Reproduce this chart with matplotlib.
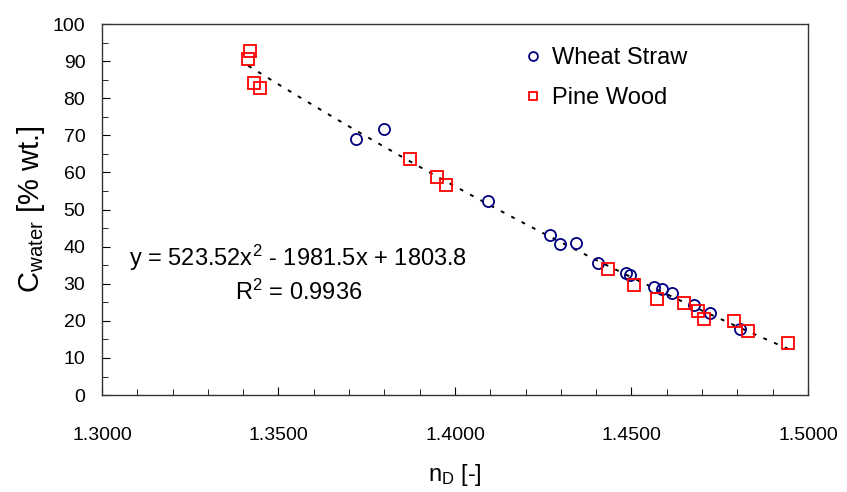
import numpy as np
import matplotlib
matplotlib.use('Agg')
import matplotlib.pyplot as plt
from matplotlib.ticker import MultipleLocator, FormatStrFormatter

plt.rcParams['font.family'] = ['Liberation Sans', 'DejaVu Sans']
plt.rcParams['mathtext.fontset'] = 'custom'
plt.rcParams['mathtext.rm'] = 'Liberation Sans'
plt.rcParams['mathtext.it'] = 'Liberation Sans:italic'

# wheat straw samples
wheat_nd = [1.3720, 1.3799, 1.4093, 1.4269, 1.4297, 1.4343, 1.4405, 1.4484,
            1.4496, 1.4564, 1.4586, 1.4615, 1.4677, 1.4722, 1.4807]
wheat_c = [69.0, 71.7, 52.3, 43.1, 40.7, 41.0, 35.6, 32.9,
           32.3, 29.1, 28.6, 27.5, 24.3, 22.1, 17.8]

# pine wood samples
pine_nd = [1.3420, 1.3414, 1.3430, 1.3447, 1.3873, 1.3949, 1.3975, 1.4433,
           1.4507, 1.4572, 1.4649, 1.4688, 1.4705, 1.4790, 1.4830, 1.4943]
pine_c = [92.8, 90.7, 84.1, 82.9, 63.6, 58.8, 56.6, 34.0,
          29.6, 25.9, 24.8, 22.6, 20.5, 19.9, 17.3, 14.0]

eq_text = 'y = 523.52x$^2$ - 1981.5x + 1803.8'
r2_text = 'R$^2$ = 0.9936'

fig = plt.figure(figsize=(8.47, 4.92), dpi=100)
ax = fig.add_axes([0.1204, 0.197, 0.8335, 0.754])

# polynomial trend line through all points
all_x = np.array(wheat_nd + pine_nd)
all_y = np.array(wheat_c + pine_c)
coef = np.polyfit(all_x, all_y, 2)
xs = np.linspace(all_x.min(), all_x.max(), 200)
ax.plot(xs, np.polyval(coef, xs), color='black', linestyle=(0, (2, 4)), linewidth=1.4)

ax.plot(wheat_nd, wheat_c, 'o', markersize=8, markerfacecolor='none',
        markeredgecolor='#000080', markeredgewidth=1.3, label='Wheat Straw')
ax.plot(pine_nd, pine_c, 's', markersize=8, markerfacecolor='none',
        markeredgecolor='#ff0000', markeredgewidth=1.3, label='Pine Wood')

ax.set_xlim(1.3, 1.5)
ax.set_ylim(0, 100)
ax.xaxis.set_major_locator(MultipleLocator(0.05))
ax.xaxis.set_minor_locator(MultipleLocator(0.01))
ax.yaxis.set_major_locator(MultipleLocator(10))
ax.yaxis.set_minor_locator(MultipleLocator(5))
ax.xaxis.set_major_formatter(FormatStrFormatter('%.4f'))
ax.tick_params(which='both', direction='in', labelsize=14, top=False, right=False)
ax.tick_params(which='major', length=6)
ax.tick_params(which='minor', length=4)
ax.tick_params(axis='x', pad=23)
ax.tick_params(axis='y', pad=12)
for s in ax.spines.values():
    s.set_color('#333333')
    s.set_linewidth(1.0)

ax.set_xlabel('n$_{\\mathrm{D}}$ [-]', fontsize=17, labelpad=13)
ax.set_ylabel('C$_{\\mathrm{water}}$ [% wt.]', fontsize=21, labelpad=4)

ax.text(0.278, 0.369, eq_text, transform=ax.transAxes, ha='center', va='center', fontsize=17)
ax.text(0.278, 0.277, r2_text, transform=ax.transAxes, ha='center', va='center', fontsize=17)

ax.legend(loc='upper left', bbox_to_anchor=(0.56, 0.995), frameon=False, fontsize=17,
          handletextpad=0.2, labelspacing=0.75, handlelength=1.2, markerscale=0.8)

fig.savefig('out.png', dpi=100)
